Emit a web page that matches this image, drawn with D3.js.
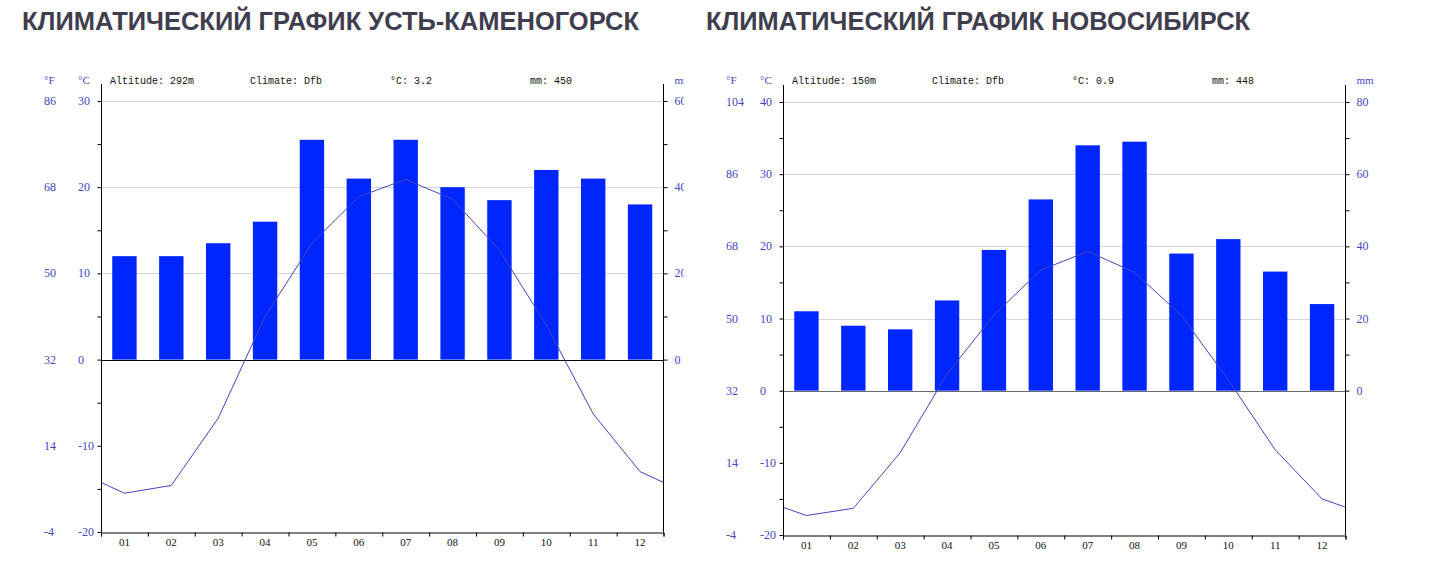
<!DOCTYPE html>
<html>
<head>
<meta charset="utf-8">
<script src="https://cdn.jsdelivr.net/npm/d3@7"></script>
<style>
  html, body { margin: 0; padding: 0; background: #fff; }
  svg { display: block; }
</style>
</head>
<body>
<svg id="chart" width="1440" height="567"></svg>
<script>
// ---------- data ----------
const months = ["01","02","03","04","05","06","07","08","09","10","11","12"];

const ukTitle = "КЛИМАТИЧЕСКИЙ ГРАФИК УСТЬ-КАМЕНОГОРСК";
const ukInfo = ["Altitude: 292m", "Climate: Dfb", "°C: 3.2", "mm: 450"];
const ukTemp = [-15.5, -14.6, -6.8, 5.0, 13.5, 18.9, 20.9, 18.6, 12.7, 4.0, -6.3, -13.0];
const ukPrecip = [24, 24, 27, 32, 51, 42, 51, 40, 37, 44, 42, 36];
const ukCelsiusTicks = [30, 20, 10, 0, -10, -20];
const ukFahrenheitTicks = ["86", "68", "50", "32", "14", "-4"];
const ukMmTicks = [60, 40, 20, 0];

const nsTitle = "КЛИМАТИЧЕСКИЙ ГРАФИК НОВОСИБИРСК";
const nsInfo = ["Altitude: 150m", "Climate: Dfb", "°C: 0.9", "mm: 448"];
const nsTemp = [-17.3, -16.3, -8.6, 2.3, 10.5, 16.7, 19.3, 16.4, 10.4, 1.5, -8.2, -15.0];
const nsPrecip = [22, 18, 17, 25, 39, 53, 68, 69, 38, 42, 33, 24];
const nsCelsiusTicks = [40, 30, 20, 10, 0, -10, -20];
const nsFahrenheitTicks = ["104", "86", "68", "50", "32", "14", "-4"];
const nsMmTicks = [80, 60, 40, 20, 0];

// ---------- drawing ----------
const svg = d3.select("#chart");
const defs = svg.append("defs");
defs.append("clipPath").attr("id", "clipLeftChart")
  .append("rect").attr("x", 0).attr("y", 0).attr("width", 684).attr("height", 567);

const BLUE_LABEL = "#4646c2";
const NUM_FONT = "'Liberation Serif', serif";
const MONO_FONT = "'Liberation Mono', monospace";

function drawTitle(text, x, width) {
  svg.append("text")
    .attr("x", x).attr("y", 30)
    .attr("font-family", "'Liberation Sans', Arial, sans-serif")
    .attr("font-weight", "bold")
    .attr("font-size", 25)
    .attr("fill", "#403e4e")
    .attr("textLength", width)
    .attr("lengthAdjust", "spacingAndGlyphs")
    .text(text);
}

function drawChart(g, cfg) {
  const L = 101, R = 663.5;
  const xBand = d3.scaleBand().domain(cfg.months).range([L, R]).paddingInner(0).paddingOuter(0);
  const xLin = d3.scaleLinear().domain([0, 12]).range([L, R]);
  const bw = xBand.bandwidth();
  const tMin = d3.min(cfg.celsius), tMax = d3.max(cfg.celsius);
  const yT = d3.scaleLinear().domain([tMin, tMax]).range([cfg.bottom, cfg.top]);
  const pMax = d3.max(cfg.mm);
  const yP = d3.scaleLinear().domain([0, pMax]).range([yT(0), yT(tMax)]);
  const axisTop = cfg.top - 17;

  // grid lines (positive side)
  g.append("g").selectAll("line").data(cfg.celsius.filter(d => d > 0)).join("line")
    .attr("x1", L).attr("x2", R)
    .attr("y1", d => Math.round(yT(d)) + 0.5).attr("y2", d => Math.round(yT(d)) + 0.5)
    .attr("stroke", "#d6d6d6").attr("stroke-width", 1);

  // bars
  const barW = bw * 0.52;
  g.append("g").selectAll("rect").data(cfg.precip).join("rect")
    .attr("x", (d, i) => xBand(cfg.months[i]) + (bw - barW) / 2)
    .attr("width", barW)
    .attr("y", d => yP(d))
    .attr("height", d => yP(0) - yP(d))
    .attr("fill", "#0026ff");

  // zero line
  g.append("line")
    .attr("x1", L).attr("x2", R)
    .attr("y1", Math.round(yT(0)) + 0.5).attr("y2", Math.round(yT(0)) + 0.5)
    .attr("stroke", cfg.zeroColor).attr("stroke-width", 1);

  // temperature line, wrapping Dec/Jan at edges
  const clipId = "clip-" + cfg.id;
  g.append("clipPath").attr("id", clipId)
    .append("rect").attr("x", L).attr("y", 0).attr("width", R - L).attr("height", 567);
  const pts = [[-1, cfg.temp[11]]].concat(cfg.temp.map((v, i) => [i, v]), [[12, cfg.temp[0]]]);
  g.append("path")
    .attr("clip-path", `url(#${clipId})`)
    .attr("d", d3.line().x(d => xLin(d[0] + 0.5)).y(d => yT(d[1]))(pts))
    .attr("fill", "none")
    .attr("stroke", "#4444c4")
    .attr("stroke-width", 1);

  // left axis
  const leftAxis = d3.axisLeft(yT).tickValues(d3.range(tMin, tMax + 1, 5)).tickSize(4).tickFormat("");
  const la = g.append("g").attr("transform", `translate(${L + 0.5},0)`).call(leftAxis);
  la.select(".domain").remove();
  la.selectAll("line").attr("stroke", "#000");
  g.append("line").attr("x1", L + 0.5).attr("x2", L + 0.5).attr("y1", axisTop).attr("y2", cfg.bottom)
    .attr("stroke", "#000");

  // right axis
  const rightAxis = d3.axisRight(yP).tickValues(d3.range(0, pMax + 1, 10)).tickSize(4).tickFormat("");
  const ra = g.append("g").attr("transform", `translate(${R},0)`).call(rightAxis);
  ra.select(".domain").remove();
  ra.selectAll("line").attr("stroke", "#000");
  g.append("line").attr("x1", R).attr("x2", R).attr("y1", axisTop).attr("y2", cfg.bottom)
    .attr("stroke", "#000");

  // bottom axis
  const bottomAxis = d3.axisBottom(xLin).tickValues(d3.range(0, 13)).tickSize(4).tickFormat("");
  const ba = g.append("g").attr("transform", `translate(0,${Math.round(cfg.bottom) + 0.5})`).call(bottomAxis);
  ba.select(".domain").attr("stroke", "#000");
  ba.selectAll("line").attr("stroke", "#000");

  // month labels
  g.append("g").selectAll("text").data(cfg.months).join("text")
    .attr("x", d => xBand(d) + bw / 2)
    .attr("y", cfg.bottom + 14)
    .attr("text-anchor", "middle")
    .attr("font-family", NUM_FONT).attr("font-size", 11).attr("fill", "#111")
    .text(d => d);

  // celsius labels
  g.append("g").selectAll("text").data(cfg.celsius).join("text")
    .attr("x", 78).attr("y", d => yT(d) + 4)
    .attr("font-family", NUM_FONT).attr("font-size", 12).attr("fill", BLUE_LABEL)
    .text(d => d);
  // fahrenheit labels
  g.append("g").selectAll("text").data(cfg.fahrenheit).join("text")
    .attr("x", 44).attr("y", (d, i) => yT(cfg.celsius[i]) + 4)
    .attr("font-family", NUM_FONT).attr("font-size", 12).attr("fill", BLUE_LABEL)
    .text(d => d);
  // mm labels
  g.append("g").selectAll("text").data(cfg.mm).join("text")
    .attr("x", R + 11).attr("y", d => yP(d) + 4)
    .attr("font-family", NUM_FONT).attr("font-size", 12).attr("fill", BLUE_LABEL)
    .text(d => d);

  // unit headers
  const hy = 84;
  [["°F", 44], ["°C", 78], ["mm", R + 11]].forEach(([t, x]) => {
    g.append("text").attr("x", x).attr("y", hy)
      .attr("font-family", NUM_FONT).attr("font-size", 11).attr("fill", BLUE_LABEL)
      .text(t);
  });

  // info line
  g.append("g").selectAll("text").data(cfg.info).join("text")
    .attr("x", (d, i) => L + 9 + 140 * i).attr("y", hy)
    .attr("font-family", MONO_FONT).attr("font-size", 10).attr("fill", "#111")
    .text(d => d);
}

drawTitle(ukTitle, 22, 617);
drawTitle(nsTitle, 706, 544);

const gLeft = svg.append("g").attr("clip-path", "url(#clipLeftChart)");
drawChart(gLeft, {
  id: "uk", months, temp: ukTemp, precip: ukPrecip,
  celsius: ukCelsiusTicks, fahrenheit: ukFahrenheitTicks, mm: ukMmTicks,
  info: ukInfo, top: 101, bottom: 532, zeroColor: "#000"
});

const gRight = svg.append("g").attr("transform", "translate(682,0)");
drawChart(gRight, {
  id: "ns", months, temp: nsTemp, precip: nsPrecip,
  celsius: nsCelsiusTicks, fahrenheit: nsFahrenheitTicks, mm: nsMmTicks,
  info: nsInfo, top: 102, bottom: 535, zeroColor: "#6a6a6a"
});
</script>
</body>
</html>
